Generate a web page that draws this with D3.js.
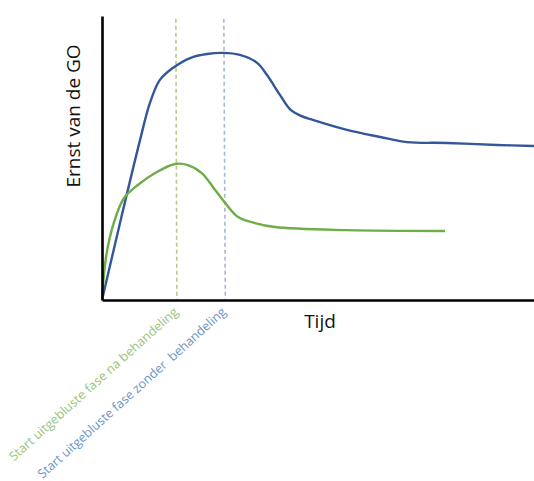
<!DOCTYPE html>
<html>
<head>
<meta charset="utf-8">
<script src="https://cdn.jsdelivr.net/npm/d3@7"></script>
<style>
  body { margin: 0; background: #fff; }
  svg { display: block; font-family: "Open Sans", "Noto Sans", sans-serif; }
</style>
</head>
<body>
<svg id="chart" width="534" height="481"></svg>
<script>
  // time (0-100) and severity (0-100)
  const blueT = [0, 4.6, 8.8, 11.1, 13.4, 16.4, 20.4, 24.3, 28.0, 31.9, 35.9, 38.2, 41.2, 43.5, 45.8, 48.8, 56.7, 64.4, 70.6, 79.9, 91.4, 100];
  const blueV = [0, 29.9, 56.3, 69.4, 77.5, 81.7, 85.2, 86.6, 87.0, 86.3, 83.5, 79.2, 72.2, 67.2, 65.0, 63.4, 59.9, 57.4, 55.6, 55.3, 54.6, 54.2];
  const greenT = [0, 0.9, 2.8, 5.1, 8.3, 12.3, 16.9, 19.9, 23.1, 26.2, 28.5, 31.5, 35.4, 40.0, 56.7, 79.4];
  const greenV = [0, 14.8, 27.5, 35.9, 40.5, 44.7, 47.9, 47.5, 44.7, 38.7, 34.2, 29.2, 27.1, 25.7, 24.6, 24.3];
  const markerT = [17.1, 28.2];
  const markerLabels = ["Start uitgebluste fase na behandeling", "Start uitgebluste fase zonder  behandeling"];
  const yLabel = "Ernst van de GO";
  const xLabel = "Tijd";

  const svg = d3.select("#chart");
  const x = d3.scaleLinear().domain([0, 100]).range([102, 534]);
  const y = d3.scaleLinear().domain([0, 100]).range([300, 16]);

  const lineColors = ["#34579a", "#6fad47"];
  const dashColors = ["#b9c98a", "#a9b6d6"];
  const labelColors = ["#98c47a", "#6a93c6"];

  // dashed markers
  markerT.forEach((t, i) => {
    svg.append("line")
      .attr("x1", x(t)).attr("x2", x(t) + (i === 0 ? 1 : 1.5))
      .attr("y1", y(99)).attr("y2", y(0))
      .attr("stroke", dashColors[i]).attr("stroke-width", 1.6)
      .attr("stroke-dasharray", "4,3");
  });

  const line = d3.line().x(d => x(d[0])).y(d => y(d[1])).curve(d3.curveCatmullRom.alpha(0.5));
  const series = [d3.zip(blueT, blueV), d3.zip(greenT, greenV)];
  series.forEach((s, i) => {
    svg.append("path").datum(s)
      .attr("d", line)
      .attr("fill", "none")
      .attr("stroke", lineColors[i])
      .attr("stroke-width", 2.4);
  });

  // axes without ticks
  svg.append("g").attr("transform", `translate(${x(0)},0)`)
    .call(d3.axisLeft(y).tickValues([]).tickSizeOuter(0))
    .select(".domain").attr("stroke", "#000").attr("stroke-width", 2.6);
  svg.append("g").attr("transform", `translate(0,${y(0)})`)
    .call(d3.axisBottom(x).tickValues([]).tickSizeOuter(0))
    .select(".domain").attr("stroke", "#000").attr("stroke-width", 2.6);

  svg.append("text")
    .attr("transform", "translate(80,116) rotate(-90)")
    .attr("text-anchor", "middle")
    .attr("font-size", 19)
    .attr("fill", "#111")
    .text(yLabel);

  svg.append("text")
    .attr("x", 320).attr("y", 328)
    .attr("text-anchor", "middle")
    .attr("font-size", 19)
    .attr("fill", "#111")
    .text(xLabel);

  const labelLen = [222, 248];
  markerT.forEach((t, i) => {
    svg.append("text")
      .attr("transform", `translate(${x(t) + 3},${y(0) + 13}) rotate(-42)`)
      .attr("text-anchor", "end")
      .attr("font-size", 12.5)
      .attr("fill", labelColors[i])
      .attr("textLength", labelLen[i])
      .attr("lengthAdjust", "spacingAndGlyphs")
      .attr("x", 0)
      .style("white-space", "pre")
      .text(markerLabels[i]);
  });
</script>
</body>
</html>
